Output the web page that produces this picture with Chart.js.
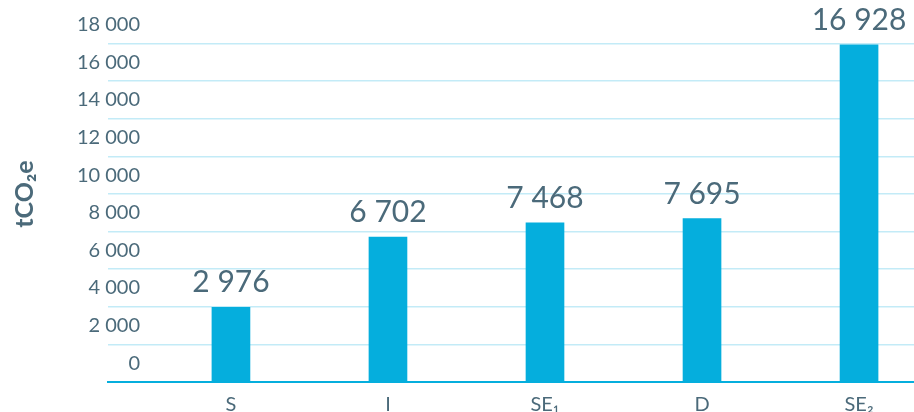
<!DOCTYPE html>
<html><head><meta charset="utf-8">
<script src="https://cdn.jsdelivr.net/npm/chart.js@4.4.1/dist/chart.umd.min.js"></script>
<style>html,body{margin:0;padding:0;background:#fff;}#wrap{width:914px;height:412px;}</style>
</head><body><div id="wrap"><canvas id="c" width="914" height="412"></canvas></div>
<script>
const categories = ['S', 'I', 'SE₁', 'D', 'SE₂'];
const values = [2976, 6702, 7468, 7695, 16928];
const yTickValues = [0, 2000, 4000, 6000, 8000, 10000, 12000, 14000, 16000, 18000];
const yGridValues = [-1000, 1000, 3000, 5000, 7000, 9000, 11000, 13000, 15000, 17000];
const yTitle = 'tCO₂e';

const TEXT = '#4b6a7a';
const TICK_SIZE = 20;
const fmt = v => String(v).replace(/\B(?=(\d{3})+(?!\d))/g, ' ');

// measure widest y tick label so mirrored, right-aligned labels end 32px inside the plot area
const mctx = document.createElement('canvas').getContext('2d');
mctx.font = TICK_SIZE + 'px Lato';
const widestY = Math.max(...yTickValues.map(v => mctx.measureText(fmt(v)).width));

const labelPlugin = {
  id: 'barLabels',
  afterDatasetsDraw(chart) {
    const ctx = chart.ctx;
    const meta = chart.getDatasetMeta(0);
    ctx.save();
    ctx.font = '30px Lato';
    ctx.fillStyle = TEXT;
    ctx.textAlign = 'center';
    ctx.textBaseline = 'alphabetic';
    meta.data.forEach((bar, i) => {
      ctx.fillText(fmt(values[i]), bar.x, bar.y - 15);
    });
    ctx.restore();
  }
};

new Chart(document.getElementById('c'), {
  type: 'bar',
  data: {
    datasets: [{
      data: values.map((v, i) => ({x: i, y: v})),
      backgroundColor: '#05aedd',
      borderWidth: 0,
      barThickness: 38,
      base: -1000
    }]
  },
  options: {
    responsive: false,
    animation: false,
    layout: {padding: {top: 6, right: 0, left: 0, bottom: 0}},
    plugins: {legend: {display: false}, tooltip: {enabled: false}},
    scales: {
      x: {
        type: 'linear',
        offset: false,
        min: -0.783,
        max: 4.35,
        afterBuildTicks(s) { s.ticks = categories.map((c, i) => ({value: i})); },
        afterFit(s) { s.height = 30; },
        grid: {display: false, drawTicks: false, offset: false},
        border: {display: true, color: '#05aedd', width: 2},
        ticks: {
          padding: 11,
          color: TEXT,
          font: {family: 'Lato', size: 20},
          maxRotation: 0,
          autoSkip: false,
          callback: v => categories[v] ?? ''
        }
      },
      y: {
        min: -1000,
        max: 19000,
        afterBuildTicks(s) {
          const all = yGridValues.concat(yTickValues).sort((a, b) => a - b);
          s.ticks = all.map(v => ({value: v}));
        },
        afterFit(s) { s.width = 108; },
        border: {display: false},
        grid: {
          drawTicks: false,
          tickLength: 0,
          lineWidth: 1.5,
          color: c => (c.tick && yGridValues.includes(c.tick.value) && c.tick.value !== -1000) ? '#c3ebf7' : 'rgba(0,0,0,0)'
        },
        ticks: {
          mirror: true,
          crossAlign: 'far',
          padding: 32 - widestY,
          color: TEXT,
          font: {family: 'Lato', size: TICK_SIZE},
          autoSkip: false,
          callback: v => yTickValues.includes(v) ? fmt(v) : ''
        },
        title: {
          display: true,
          text: yTitle,
          color: TEXT,
          font: {family: 'Lato', size: 25, weight: 'bold'},
          padding: {top: 10, bottom: 0}
        }
      }
    }
  },
  plugins: [labelPlugin]
});
</script>
</body></html>
